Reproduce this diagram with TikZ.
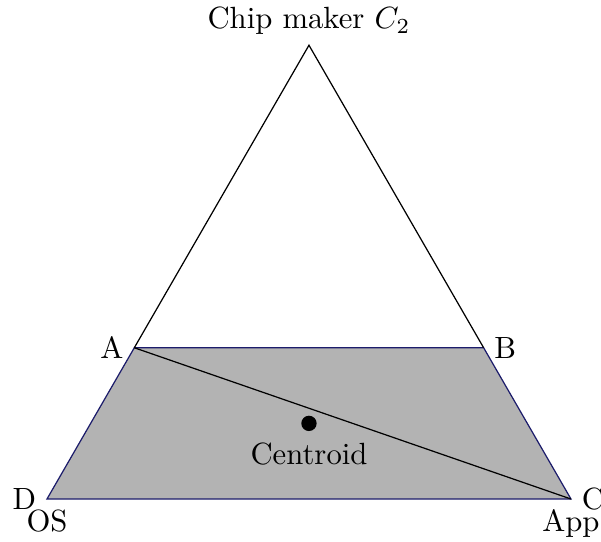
\documentclass[tikz,border=0pt]{standalone}
\usepackage{tikz}
\usetikzlibrary{calc}
\definecolor{cN}{HTML}{1c1c6b}
\definecolor{cG}{HTML}{b3b3b3}
\tikzset{
  corner/.style={inner sep=0pt},
  region/.style={draw=cN,fill=cG},
  dot/.style={circle,fill=black,inner sep=0pt,minimum size=5pt},
}

\begin{document}
\begin{tikzpicture}
  \useasboundingbox (-0.538,-0.492) rectangle (6.344,5.714);
  % corners of the simplex
  \coordinate[label=left:D,label=below:OS] (D) at (0,0);
  \coordinate[label=right:C,label=below:App] (C) at (6,0);
  \coordinate[label=above:{Chip maker $C_2$}] (T) at (3,{3*sqrt(3)});
  \coordinate[label=left:A] (A) at ($(D)!1/3!(T)$);
  \coordinate[label=right:B] (B) at ($(C)!1/3!(T)$);
  % shaded region
  \draw[region] (A) -- (B) -- (C) -- (D) -- cycle;
  \draw (A) -- (T) -- (B);
  \draw (A) -- (C);
  \node[dot,label=below:Centroid] (G) at ($.25*(A)+.25*(B)+.25*(C)+.25*(D)$) {};
\end{tikzpicture}
\end{document}
